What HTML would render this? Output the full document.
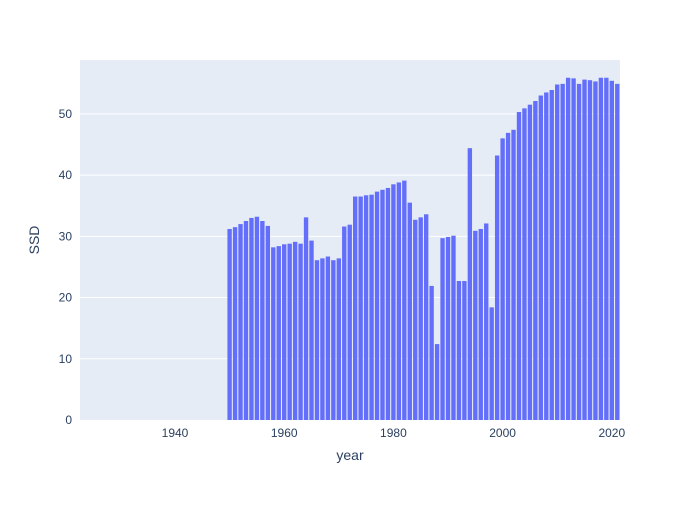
<!DOCTYPE html>
<html><head><meta charset="utf-8"><style>
body{margin:0;background:#fff;font-family:"Liberation Sans",sans-serif}
</style></head><body>
<svg width="700" height="500" xmlns="http://www.w3.org/2000/svg">
<rect x="0" y="0" width="700" height="500" fill="#fff"/>
<rect x="80" y="60" width="540" height="360" fill="#e5ecf6"/>
<g id="grid"></g><g id="bars"></g><g id="ticks"></g>
<text x="350" y="460" text-anchor="middle" font-size="14" fill="#2a3f5f">year</text>
<text transform="translate(39,240) rotate(-90)" text-anchor="middle" font-size="14" fill="#2a3f5f">SSD</text>
</svg>
<script>
const years = [];
for (let y = 1950; y <= 2021; y++) years.push(y);
const ssd = [31.2,31.5,32,32.5,33,33.2,32.5,31.7,28.2,28.4,28.7,28.8,29.1,28.8,33.1,29.3,26.1,26.4,26.7,26.1,26.4,31.6,31.9,36.5,36.5,36.7,36.8,37.3,37.6,37.9,38.5,38.8,39.1,35.5,32.7,33.1,33.6,21.9,12.4,29.7,29.9,30.1,22.7,22.7,44.4,30.9,31.2,32.1,18.4,43.2,46,46.9,47.4,50.3,50.9,51.5,52.1,53,53.5,53.9,54.8,54.9,55.9,55.8,54.9,55.6,55.5,55.3,55.9,55.9,55.4,54.9];
const xTicks = [1940,1960,1980,2000,2020];
const yTicks = [0,10,20,30,40,50];
const X0=80,X1=620,Y0=420,Y1=60,xmin=1922.6,xmax=2021.5,ymin=0,ymax=58.8;
const xs=v=>X0+(v-xmin)/(xmax-xmin)*(X1-X0);
const ys=v=>Y0-(v-ymin)/(ymax-ymin)*(Y0-Y1);
const NS='http://www.w3.org/2000/svg';
function mk(t,a,p){const e=document.createElementNS(NS,t);for(const k in a)e.setAttribute(k,a[k]);p.appendChild(e);return e;}
const g=document.getElementById('grid'),b=document.getElementById('bars'),tk=document.getElementById('ticks');
yTicks.forEach(v=>{
  if(v>0){const l=mk('line',{x1:X0,x2:X1,y1:ys(v),y2:ys(v),stroke:'#fff','stroke-width':1},g);
  
  }
  const t=mk('text',{x:X0-8,y:ys(v)+4,'text-anchor':'end','font-size':12,fill:'#2a3f5f'},tk);t.textContent=v;
  
  
});
xTicks.forEach(v=>{
  const t=mk('text',{x:xs(v),y:Y0+17,'text-anchor':'middle','font-size':12,fill:'#2a3f5f'},tk);t.textContent=v;
  
  
});
const bw=(xs(1)-xs(0))*0.8;
years.forEach((yr,i)=>{
  const r=mk('rect',{x:xs(yr)-bw/2,y:ys(ssd[i]),width:bw,height:Y0-ys(ssd[i]),fill:'#636efa'},b);
  
  
});
</script>
</body></html>
